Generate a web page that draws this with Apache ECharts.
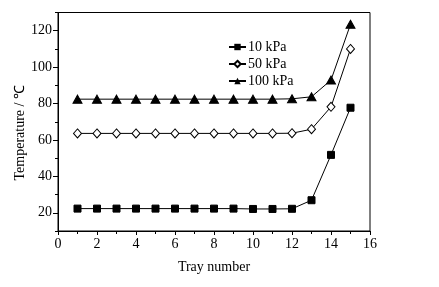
<!DOCTYPE html>
<html><head><meta charset="utf-8">
<script src="https://cdn.jsdelivr.net/npm/echarts@6/dist/echarts.min.js"></script>
<style>html,body{margin:0;padding:0;background:#fff}#c{width:439px;height:287px}</style>
</head><body><div id="c"></div>
<script>
var trays = [1,2,3,4,5,6,7,8,9,10,11,12,13,14,15];
var kPa10  = [22.3,22.3,22.3,22.3,22.3,22.3,22.3,22.3,22.3,22.1,22.1,22.2,26.9,51.8,77.7];
var kPa50  = [63.6,63.6,63.6,63.6,63.6,63.6,63.6,63.6,63.6,63.6,63.6,63.7,65.9,78.2,110.0];
var kPa100 = [82.4,82.4,82.4,82.4,82.4,82.4,82.4,82.4,82.4,82.4,82.4,82.6,83.7,92.9,123.5];
var seriesNames = ['10 kPa','50 kPa','100 kPa'];
var yMajor = [20,40,60,80,100,120];
var yMinor = [10,30,50,70,90,110,130];

function pairs(v){ return trays.map(function(t,i){ return [t, v[i]]; }); }
var font = '"Liberation Serif","Times New Roman",serif';
var chart = echarts.init(document.getElementById('c'));
chart.setOption({
  animation:false,
  backgroundColor:'#fff',
  grid:{left:58,top:12.5,right:69,bottom:56,show:true,borderColor:'#000',borderWidth:1,backgroundColor:'transparent'},
  legend:{
    orient:'vertical', left:223, top:35, itemWidth:17, itemHeight:8, itemGap:3,
    textStyle:{fontFamily:font,fontSize:14,color:'#000',lineHeight:14,padding:[0,0,0,-3]},
    data:seriesNames
  },
  xAxis:[{
    type:'value', min:0, max:16, interval:2,
    name:'Tray number', nameLocation:'middle', nameGap:29,
    nameTextStyle:{fontFamily:font,fontSize:14,color:'#000'},
    axisLine:{lineStyle:{color:'#000',width:1}},
    axisTick:{show:true,length:4,lineStyle:{color:'#000'}},
    minorTick:{show:true,splitNumber:2,length:3,lineStyle:{color:'#000'}},
    axisLabel:{fontFamily:font,fontSize:14,color:'#000',margin:6},
    splitLine:{show:false}
  }],
  yAxis:[{
    type:'value', min:10, max:130,
    name:'Temperature / ℃', nameLocation:'middle', nameGap:31, nameRotate:90, nameMoveOverlap:false,
    nameTextStyle:{fontFamily:font,fontSize:14,color:'#000',padding:[0,22,0,0]},
    axisLine:{show:true,lineStyle:{color:'#000',width:1}},
    axisTick:{show:true,length:5,customValues:yMajor,lineStyle:{color:'#000'}},
    axisLabel:{fontFamily:font,fontSize:14,color:'#000',margin:6,customValues:yMajor},
    splitLine:{show:false}
  },{
    type:'value', min:10, max:130, position:'left',
    axisLine:{show:false},
    axisTick:{show:true,length:3,customValues:yMinor,lineStyle:{color:'#000'}},
    axisLabel:{show:false,customValues:yMinor},
    splitLine:{show:false}
  }],
  series:[
    {name:seriesNames[0],type:'line',data:pairs(kPa10),symbol:'rect',symbolSize:7,
     lineStyle:{color:'#000',width:1},itemStyle:{color:'#000',borderColor:'#000'}},
    {name:seriesNames[1],type:'line',data:pairs(kPa50),symbol:'diamond',symbolSize:[8,9],
     lineStyle:{color:'#000',width:1},itemStyle:{color:'#fff',borderColor:'#000',borderWidth:1}},
    {name:seriesNames[2],type:'line',data:pairs(kPa100),symbol:'triangle',symbolSize:[9,8],
     lineStyle:{color:'#000',width:1},itemStyle:{color:'#000',borderColor:'#000'}}
  ]
});
</script></body></html>
